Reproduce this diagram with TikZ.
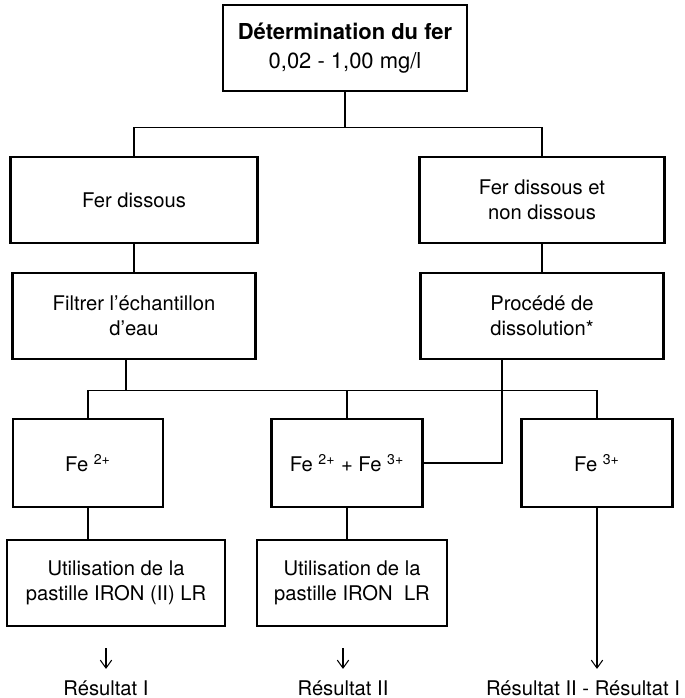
\documentclass[tikz,border=0pt]{standalone}
\usepackage{fontspec}
\setmainfont{TeX Gyre Heros}
\usetikzlibrary{arrows.meta,positioning,calc}
\newlength\px
\setlength\px{0.02cm}

\begin{document}
\begin{tikzpicture}[x=0.02cm,y=-0.02cm,
    font=\fontsize{11.5}{14.2}\selectfont,
    box/.style={draw,line width=1.5pt,align=center,inner sep=0pt,minimum height=86\px},
    conn/.style={line width=0.6pt},
    pfeil/.style={conn,-{Straight Barb[length=4.5pt,width=6.5pt]}}]
        \useasboundingbox (0,0) rectangle (685,698);
        % draw boxes
        \node[box,minimum width=244\px,font=\fontsize{12.5}{16.5}\selectfont] (top) at (345,48) {\textbf{Détermination du fer}\\0,02 - 1,00 mg/l};
        \node[box,minimum width=247\px] (dis) at (134,200) {Fer dissous};
        \node[box,minimum width=245\px] (nondis) at (542,200) {Fer dissous et\\non dissous};
        \node[box,minimum width=243\px] (filt) at (134,316) {Filtrer l’échantillon\\d’eau};
        \node[box,minimum width=243\px] (proc) at (542,316) {Procédé de\\dissolution*};
        \node[box,minimum width=150\px,minimum height=88\px] (fe2) at (88,463) {Fe \textsuperscript{2+}};
        \node[box,minimum width=151\px,minimum height=88\px] (fe23) at (347,463) {Fe \textsuperscript{2+} + Fe \textsuperscript{3+}};
        \node[box,minimum width=151\px,minimum height=88\px] (fe3) at (597,463) {Fe \textsuperscript{3+}};
        \node[box,minimum width=218\px] (util1) at (116,583) {Utilisation de la\\pastille IRON (II) LR};
        \node[box,minimum width=190\px] (util2) at (352,583) {Utilisation de la\\pastille IRON\ \ LR};
        % draw results
        \node[inner sep=0pt,anchor=base] (res1) at (106,695) {Résultat I};
        \node[inner sep=0pt,anchor=base] (res2) at (343,695) {Résultat II};
        \node[inner sep=0pt,anchor=base] (res3) at (583,695) {Résultat II - Résultat I};
        % draw connectors
        \draw[conn] (top.south) -- ++(0,35) -| (dis.north);
        \draw[conn] (top.south) -- ++(0,35) -| (nondis.north);
        \draw[conn] (dis) -- (filt);
        \draw[conn] (nondis) -- (proc);
        \draw[conn] ([xshift=-8\px]filt.south) -- ++(0,30) coordinate (j2);
        \draw[conn] (fe2.north) |- (j2) -| (fe3.north);
        \draw[conn] (fe23.north) -- (fe23.north |- j2);
        \draw[conn] (fe23.east) -| ([xshift=-40\px]proc.south);
        \draw[conn] (fe2) -- (fe2 |- util1.north);
        \draw[conn] (fe23) -- (fe23 |- util2.north);
        % draw arrows
        \draw[pfeil,shorten <=21\px,shorten >=11\px] (util1.south -| res1) -- (res1.north);
        \draw[pfeil,shorten <=21\px,shorten >=11\px] (util2.south -| res2) -- (res2.north);
        \draw[pfeil,shorten >=11\px] (fe3) -- (fe3 |- res3.north);
\end{tikzpicture}
\end{document}
